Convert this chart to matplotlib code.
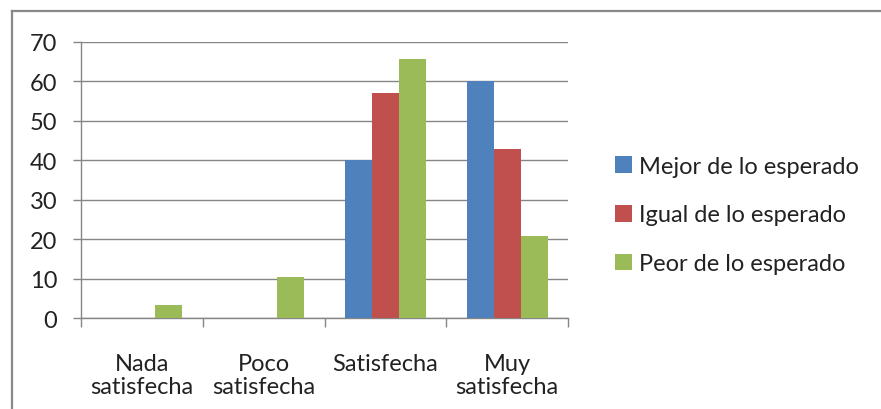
import matplotlib
matplotlib.use("Agg")
import matplotlib.pyplot as plt
import numpy as np
from matplotlib.patches import Patch
from matplotlib.lines import Line2D

categories = ["Nada\nsatisfecha", "Poco\nsatisfecha", "Satisfecha", "Muy\nsatisfecha"]
series_names = ["Mejor de lo esperado", "Igual de lo esperado", "Peor de lo esperado"]
mejor = [0, 0, 40.0, 60.0]
igual = [0, 0, 57.1, 42.9]
peor = [3.4, 10.3, 65.5, 20.7]
y_ticks = [0, 10, 20, 30, 40, 50, 60, 70]

colors = ["#4F81BD", "#C0504D", "#9BBB59"]
axis_gray = "#868686"
FS = 17

plt.rcParams["font.family"] = ["Lato", "DejaVu Sans"]

W, H = 881, 410
fig = plt.figure(figsize=(W / 100, H / 100), dpi=100)

# outer chart frame (top and left edges visible)
fig.add_artist(Line2D([12 / W, 12 / W], [0, 1 - 12 / H], color="#888888", lw=1.6,
                      transform=fig.transFigure))
fig.add_artist(Line2D([12 / W, 1], [1 - 12 / H, 1 - 12 / H], color="#888888", lw=1.6,
                      transform=fig.transFigure))

left, right = 81 / W, 568 / W
bottom, top = 1 - 319 / H, 1 - 42.7 / H
ax = fig.add_axes([left, bottom, right - left, top - bottom])

x = np.arange(len(categories))
bw = 1 / 4.5
for i, (vals, c) in enumerate(zip([mejor, igual, peor], colors)):
    ax.bar(x + (i - 1) * bw, vals, width=bw, color=c, edgecolor="none", zorder=3)

ax.set_xlim(-0.5, len(categories) - 0.5)
ax.set_ylim(0, 70)
ax.set_yticks(y_ticks)
ax.yaxis.grid(True, color=axis_gray, lw=1.0, zorder=0)
ax.set_axisbelow(True)

for s in ["top", "right"]:
    ax.spines[s].set_visible(False)
for s in ["left", "bottom"]:
    ax.spines[s].set_color(axis_gray)
    ax.spines[s].set_linewidth(1.0)

# category boundaries carry the tick marks; labels sit at category centres
ax.set_xticks(np.arange(len(categories) + 1) - 0.5)
ax.set_xticklabels([])
ax.set_xticks(x, minor=True)
ax.set_xticklabels(categories, minor=True, fontsize=FS, color="#222222",
                   linespacing=1.15)
ax.tick_params(axis="x", which="major", length=6.5, color=axis_gray, width=1.0)
ax.tick_params(axis="x", which="minor", length=0, pad=25)
ax.tick_params(axis="y", length=6, color=axis_gray, width=1.0, pad=11,
               labelsize=FS, labelcolor="#222222")

handles = [Patch(facecolor=c, edgecolor="none") for c in colors]
fig.legend(handles, series_names, loc="center left",
           bbox_to_anchor=(594 / W, 1 - 216 / H), frameon=False,
           fontsize=FS, handlelength=0.7, handleheight=0.7,
           handletextpad=0.3, labelspacing=1.18, labelcolor="#222222")

fig.savefig("out.png", dpi=100)
